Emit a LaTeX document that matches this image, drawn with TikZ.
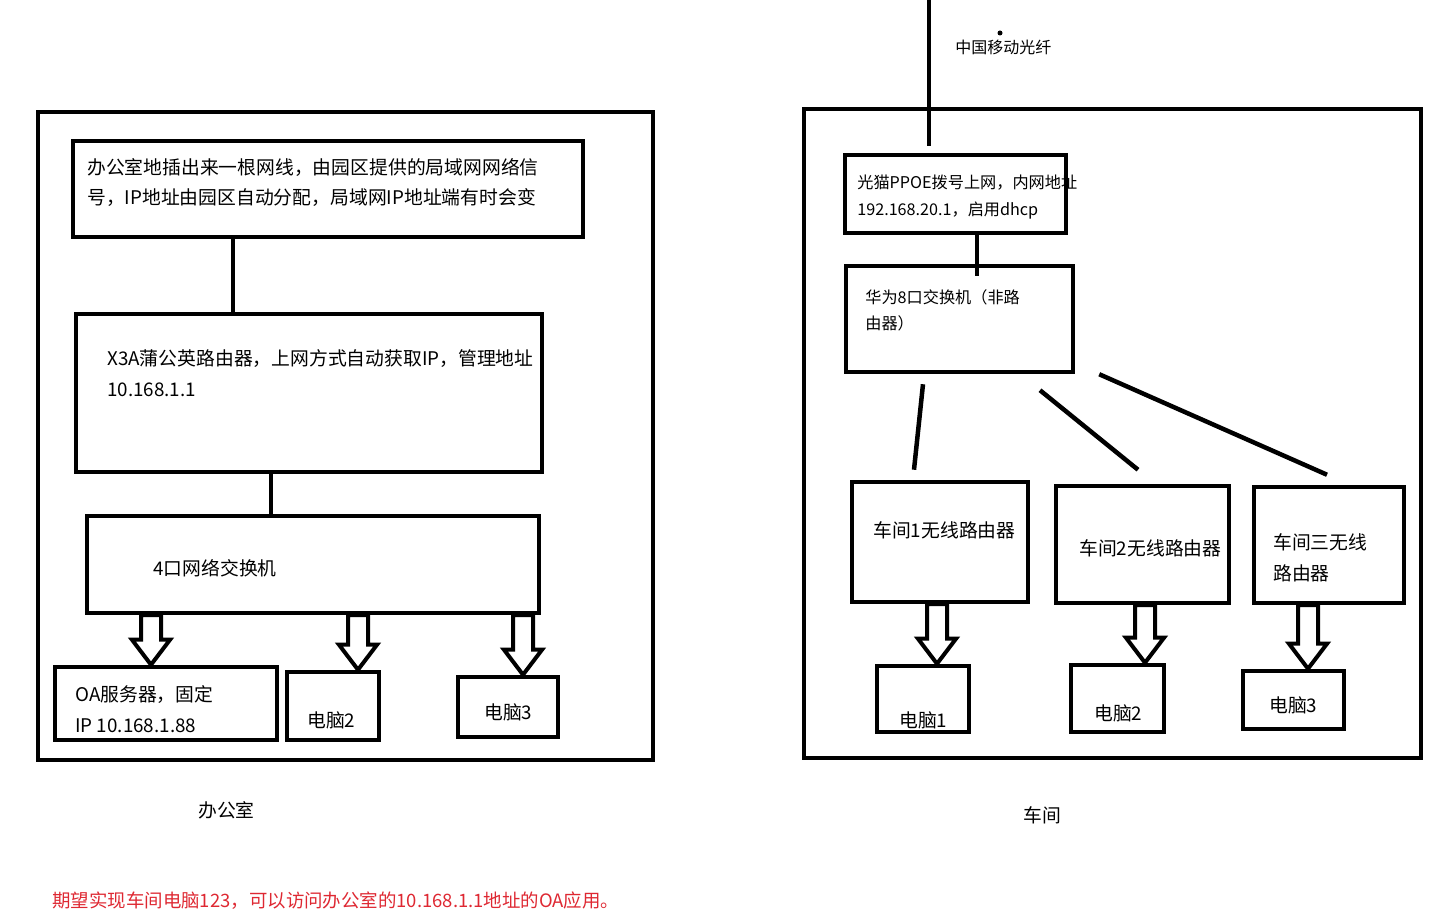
\documentclass[tikz,border=0pt]{standalone}
\usepackage{fontspec}
\newfontfamily\cjk{Noto Sans CJK SC}
\usetikzlibrary{calc}
\definecolor{note}{RGB}{222,40,50}
\newlength\pu
\setlength\pu{0.2mm}

% one hollow arrow: from node, to node, x of the shaft
\newcommand{\fatarrow}[3]{%
  \path (#3,0) coordinate (fx);
  \path (fx |- #1.south) coordinate (ft);
  \path (fx |- #2.north) coordinate (tt);
  \draw[hollow] ($(ft)+(-10,0)$) -- ($(tt)+(-10,-25)$) -- ($(tt)+(-19,-25)$)
    -- (tt) -- ($(tt)+(19,-25)$) -- ($(tt)+(10,-25)$) -- ($(ft)+(10,0)$) -- cycle;}

\tikzset{
  box/.style={draw, line width=0.9mm, rectangle, inner sep=0pt},
  wire/.style={line width=0.9mm},
  hollow/.style={line width=0.8mm, fill=white, line join=miter},
  txt/.style={font=\cjk\fontsize{10.7}{17.6}\selectfont, align=left, inner sep=0pt, anchor=west},
  small/.style={font=\cjk\fontsize{9.2}{15}\selectfont, align=left, inner sep=0pt, anchor=west}
}

\begin{document}
\begin{tikzpicture}[x=0.2mm, y=-0.2mm]
  \useasboundingbox (0,0) rectangle (1446,924);

  % ---------------- office ----------------
  \node[box, minimum width=615\pu, minimum height=648\pu] (office) at (345.5,436) {};
  \node[box, minimum width=510\pu, minimum height=96\pu] (wall) at (328,189) {};
  \node[box, minimum width=466\pu, minimum height=158\pu] (x3a) at (309,393) {};
  \node[box, minimum width=452\pu, minimum height=97\pu] (sw4) at (313,564.5) {};
  \node[box, minimum width=222\pu, minimum height=73\pu] (oa) at (166,703.5) {};
  \node[box, minimum width=92\pu, minimum height=68\pu] (pcA2) at (333,706) {};
  \node[box, minimum width=100\pu, minimum height=60\pu] (pcA3) at (508,707) {};

  \node[txt] (wallT) at (87,182.5)
    {办公室地插出来一根网线，由园区提供的局域网网络信\\号，IP地址由园区自动分配，局域网IP地址端有时会变};
  \node[txt] (x3aT) at (107,373.5)
    {X3A蒲公英路由器，上网方式自动获取IP，管理地址\\10.168.1.1};
  \node[txt] (sw4T) at (153,568) {4口网络交换机};
  \node[txt] (oaT) at (75,709.5) {OA服务器，固定\\IP 10.168.1.88};
  \node[txt] (pcA2T) at (307,720) {电脑2};
  \node[txt] (pcA3T) at (484,712) {电脑3};

  \draw[wire] ([xshift=-95\pu]wall.south) coordinate (c1) -- (c1 |- x3a.north);
  \draw[wire] ([xshift=-38\pu]x3a.south) coordinate (c2) -- (c2 |- sw4.north);
  \fatarrow{sw4}{oa}{151}
  \fatarrow{sw4}{pcA2}{358}
  \fatarrow{sw4}{pcA3}{523}

  \node[txt] (officeT) at (198,810) {办公室};

  % ---------------- workshop ----------------
  \node[box, minimum width=617\pu, minimum height=649\pu] (shop) at (1112.5,433.5) {};
  \node[box, minimum width=221\pu, minimum height=78\pu] (modem) at (955.5,194) {};
  \node[box, minimum width=227\pu, minimum height=106\pu] (hw) at (959.5,319) {};
  \node[box, minimum width=176\pu, minimum height=120\pu] (r1) at (940,542) {};
  \node[box, minimum width=173\pu, minimum height=117\pu] (r2) at (1142.5,544.5) {};
  \node[box, minimum width=150\pu, minimum height=116\pu] (r3) at (1329,545) {};
  \node[box, minimum width=92\pu, minimum height=66\pu] (pc1) at (923,699) {};
  \node[box, minimum width=93\pu, minimum height=67\pu] (pc2) at (1117.5,698.5) {};
  \node[box, minimum width=101\pu, minimum height=58\pu] (pc3) at (1293.5,700) {};

  \coordinate (fiber) at (929,0);
  \fill (1000,33) circle (2.5);
  \node[small, font=\cjk\fontsize{9.1}{15}\selectfont] (fiberT) at (955,47) {中国移动光纤};
  \node[small] (modemT) at (857,197) {光猫PPOE拨号上网，内网地址\\192.168.20.1，启用dhcp};
  \node[small] (hwT) at (865,310.5) {华为8口交换机（非路\\由器）};
  \node[txt] (r1T) at (873,530) {车间1无线路由器};
  \node[txt] (r2T) at (1079,548) {车间2无线路由器};
  \node[txt] (r3T) at (1273,557.5) {车间三无线\\路由器};
  \node[txt] (pc1T) at (899,720) {电脑1};
  \node[txt] (pc2T) at (1094,713) {电脑2};
  \node[txt] (pc3T) at (1269,705) {电脑3};

  \draw[wire] (fiber) -- ($(fiber |- modem.north)+(0,-7)$);
  \draw[wire] ([xshift=21.5\pu]modem.south) coordinate (c3) -- ($(c3 |- hw.north)+(0,12)$);
  \draw[wire] ($(hw.south)+(-36.5,10)$) -- ($(r1.north)+(-26,-10)$);
  \draw[wire] ($(hw.south)+(80.5,16)$) -- ($(r2.north)+(-4.5,-14)$);
  \draw[wire] ($(hw.south east)+(24,0)$) -- ($(r3.north)+(-2,-10)$);
  \fatarrow{r1}{pc1}{937}
  \fatarrow{r2}{pc2}{1145}
  \fatarrow{r3}{pc3}{1308}

  \node[txt] (shopT) at (1023,815) {车间};

  % ---------------- note ----------------
  \node[txt, note, font=\cjk\fontsize{10.5}{17.6}\selectfont] (noteT) at (52,901)
    {期望实现车间电脑123，可以访问办公室的10.168.1.1地址的OA应用。};
\end{tikzpicture}
\end{document}
